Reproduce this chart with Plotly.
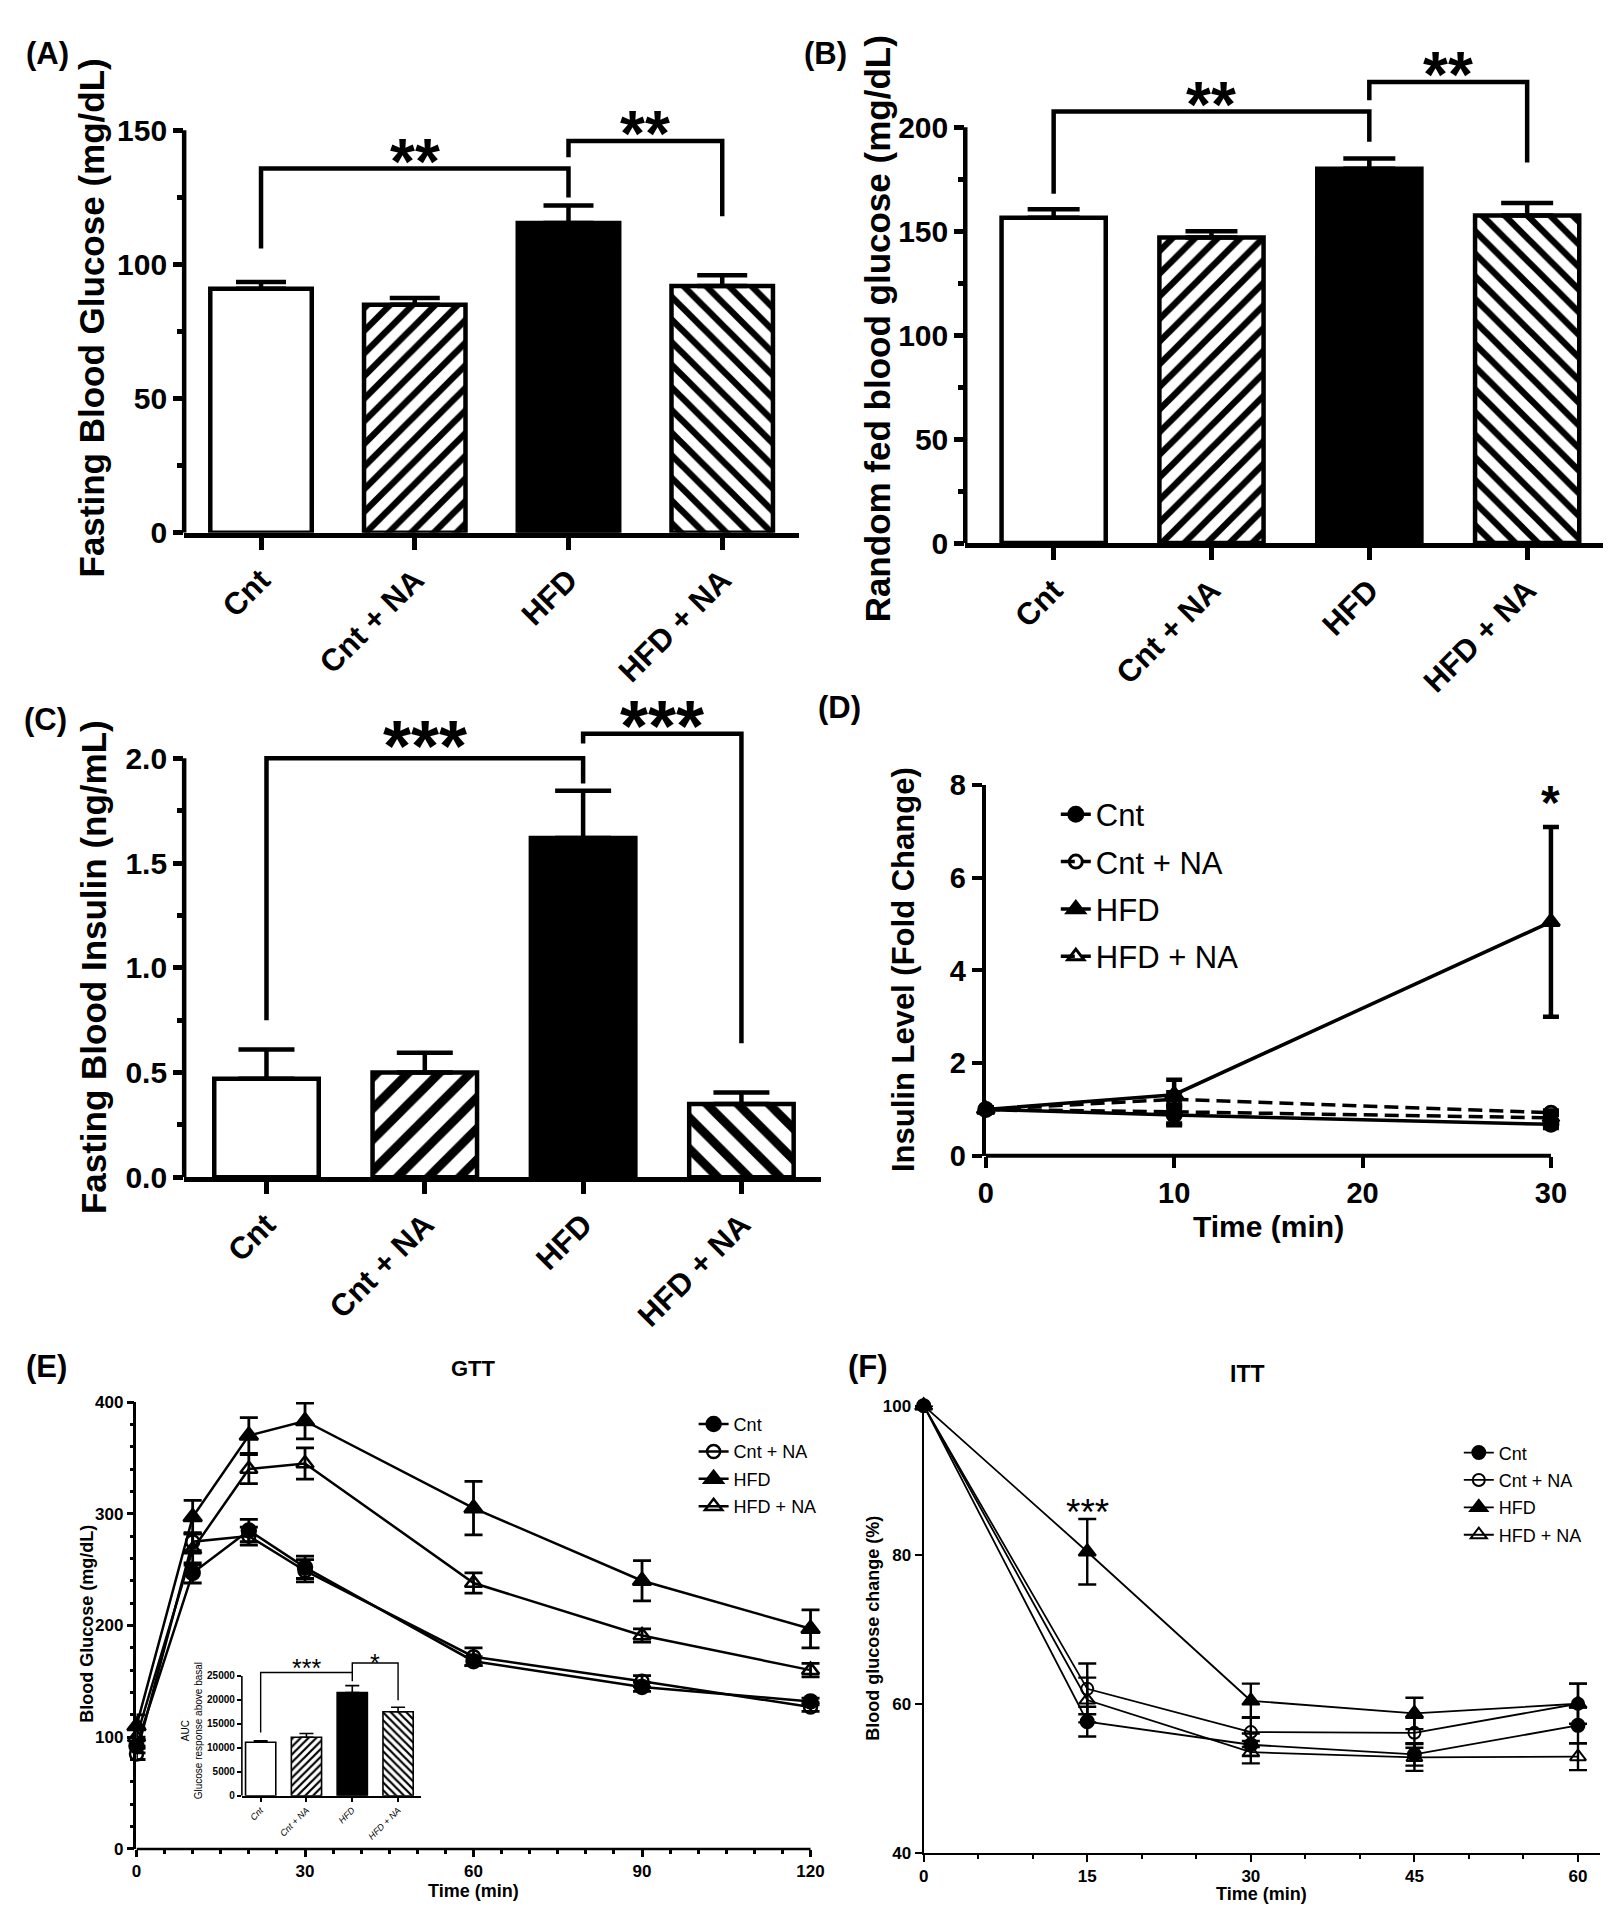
import plotly.graph_objects as go

W, H = 1611, 1920
FONT = "Arial, 'Liberation Sans', Helvetica, sans-serif"

# ---------------- data ----------------
groups = ["Cnt", "Cnt + NA", "HFD", "HFD + NA"]
group_pos = [0, 1, 2, 3]

# (A) fasting blood glucose (mg/dL)
fbg_mean = [91.0, 85.0, 115.5, 92.0]
fbg_sem = [2.5, 2.5, 6.5, 4.0]
fbg_brackets = [([0, 0, 2, 2], [106, 135.8, 135.8, 125]), ([2, 2, 3, 3], [140, 146, 146, 118])]
fbg_stars = [(1.0, 141.6, "**"), (2.5, 151.8, "**")]

# (B) random fed blood glucose (mg/dL)
rbg_mean = [156.5, 147.0, 180.0, 157.5]
rbg_sem = [4.0, 3.0, 5.0, 6.0]
rbg_brackets = [([0, 0, 2, 2], [168, 207.6, 207.6, 193]), ([2, 2, 3, 3], [213, 221.7, 221.7, 183])]
rbg_stars = [(1.0, 214.8, "**"), (2.5, 229.3, "**")]

# (C) fasting blood insulin (ng/mL)
ins_mean = [0.47, 0.50, 1.62, 0.35]
ins_sem = [0.14, 0.095, 0.225, 0.055]
ins_brackets = [([0, 0, 2, 2], [0.75, 2.0, 2.0, 1.88]), ([2, 2, 3, 3], [2.07, 2.117, 2.117, 0.64])]
ins_stars = [(1.0, 2.104, "***"), (2.5, 2.202, "***")]

# (D) insulin level fold change
d_time = [0, 10, 30]
d_cnt = [1.0, 0.88, 0.68]
d_cnt_sem = [0.05, 0.22, 0.08]
d_cnt_na = [1.0, 1.22, 0.93]
d_cnt_na_sem = [0.05, 0.15, 0.05]
d_hfd = [1.0, 1.32, 5.05]
d_hfd_sem = [0.05, 0.32, 2.05]
d_hfd_na = [1.0, 0.95, 0.82]
d_hfd_na_sem = [0.05, 0.25, 0.08]
d_star = (30, 7.76, "*")

# (E) GTT
gtt_time = [0, 10, 20, 30, 60, 90, 120]
gtt_cnt = [92, 247, 285, 252, 168, 145, 132]
gtt_cnt_sem = [6, 9, 10, 10, 4, 4, 3]
gtt_cnt_na = [85, 275, 280, 249, 172, 150, 127]
gtt_cnt_na_sem = [5, 8, 8, 10, 8, 5, 4]
gtt_hfd = [110, 297, 370, 383, 305, 240, 197]
gtt_hfd_sem = [10, 15, 16, 16, 24, 18, 17]
gtt_hfd_na = [100, 268, 340, 345, 238, 191, 160]
gtt_hfd_na_sem = [8, 14, 13, 14, 9, 6, 6]

# (E inset) AUC
auc_mean = [11150, 12190, 21520, 17510]
auc_sem = [330, 800, 1450, 950]
auc_brackets = [([0, 0, 2, 2], [13200, 25700, 25700, 23900]), ([2, 2, 3, 3], [25700, 27700, 27700, 19900])]
auc_stars = [(1.0, 27400, "***"), (2.5, 28420, "*")]

# (F) ITT
itt_time = [0, 15, 30, 45, 60]
itt_cnt = [100, 57.6, 54.5, 53.2, 57.1]
itt_cnt_sem = [0, 2.0, 1.5, 1.5, 2.4]
itt_cnt_na = [100, 62.0, 56.2, 56.1, 60.0]
itt_cnt_na_sem = [0, 3.4, 2.0, 2.0, 2.7]
itt_hfd = [100, 80.4, 60.4, 58.7, 60.0]
itt_hfd_sem = [0, 4.4, 2.3, 2.1, 2.7]
itt_hfd_na = [100, 60.5, 53.5, 52.8, 52.9]
itt_hfd_na_sem = [0, 3.0, 1.5, 1.8, 1.8]
itt_star = (15, 86.3, "***")

# ---------------- styles ----------------
bar_fill = ["white", "white", "black", "white"]
bar_pattern = ["", "/", "", "\\"]
line_symbols = ["circle", "circle-open", "triangle-up", "triangle-up-open"]
d_dashes = ["solid", "14px,7px", "solid", "14px,7px"]
STAR_K = 0.135


def px_x(x):
    return x / W


def px_y(y):
    return 1 - y / H


def fnt(size, bold=True):
    return dict(family=FONT, size=size, color="black", weight="bold" if bold else "normal")


fig = go.Figure()
annotations = []
shapes = []


def add_bar_panel(xa, ya, means, sems, pat_size, lw, capw, solidity=0.4):
    for i in range(len(means)):
        marker = dict(color=bar_fill[i], line=dict(color="black", width=lw))
        if bar_pattern[i]:
            marker["pattern"] = dict(shape=bar_pattern[i], fgcolor="black", bgcolor="white",
                                     fgopacity=1, size=pat_size, solidity=solidity, fillmode="replace")
        fig.add_trace(go.Bar(
            x=[group_pos[i]], y=[means[i]], width=0.66, xaxis=xa, yaxis=ya, showlegend=False,
            hoverinfo="skip", marker=marker,
            error_y=dict(type="data", array=[sems[i]], arrayminus=[0], symmetric=False,
                         color="black", thickness=lw, width=capw)))


def add_brackets(xa, ya, brackets, lw):
    for bx, by in brackets:
        fig.add_trace(go.Scatter(x=bx, y=by, mode="lines", line=dict(color="black", width=lw),
                                 xaxis=xa, yaxis=ya, showlegend=False, hoverinfo="skip"))


def add_stars(xa, ya, stars, size, bold=True):
    for sx, sy, st in stars:
        annotations.append(dict(xref=xa, yref=ya, x=sx, y=sy, text=st, showarrow=False,
                                xanchor="center", yanchor="middle", yshift=-STAR_K * size,
                                font=fnt(size, bold)))


def y_spine(xa, ya, top, lw):
    shapes.append(dict(type="line", xref=xa + " domain", yref=ya, x0=0, x1=0, y0=0, y1=top,
                       line=dict(color="black", width=lw)))


def x_spine(xa, ya, left, right, lw):
    shapes.append(dict(type="line", xref=xa, yref=ya + " domain", x0=left, x1=right, y0=0, y1=0,
                       line=dict(color="black", width=lw)))


def text_ann(xp, yp, text, size, bold=True, angle=0, xanchor="center", yanchor="middle"):
    annotations.append(dict(xref="paper", yref="paper", x=px_x(xp), y=px_y(yp), text=text,
                            showarrow=False, textangle=angle, xanchor=xanchor, yanchor=yanchor,
                            font=fnt(size, bold)))


def add_line_series(xa, ya, xs, ys_list, errs_list, legend, lw, msizes, mlw, eth, ew, dashes=None):
    for i, (name, ys, errs) in enumerate(zip(groups, ys_list, errs_list)):
        fig.add_trace(go.Scatter(
            x=xs, y=ys, name=name, mode="lines+markers", xaxis=xa, yaxis=ya, legend=legend,
            legendgroup=legend + name,
            line=dict(color="black", width=lw, dash=(dashes[i] if dashes else "solid")),
            marker=dict(symbol=line_symbols[i], size=msizes[i], color="black",
                        line=dict(color="black", width=mlw)),
            error_y=dict(type="data", array=errs, color="black", thickness=eth, width=ew),
            cliponaxis=False, hoverinfo="skip"))


# ---------- (A) ----------
add_bar_panel("x", "y", fbg_mean, fbg_sem, 16, 4.5, 25)
add_brackets("x", "y", fbg_brackets, 4.5)
add_stars("x", "y", fbg_stars, 64)
y_spine("x", "y", 150, 4.5)

# ---------- (B) ----------
add_bar_panel("x2", "y2", rbg_mean, rbg_sem, 16, 4.5, 26)
add_brackets("x2", "y2", rbg_brackets, 4.5)
add_stars("x2", "y2", rbg_stars, 64)
y_spine("x2", "y2", 200, 4.5)

# ---------- (C) ----------
add_bar_panel("x3", "y3", ins_mean, ins_sem, 22, 4.5, 28)
add_brackets("x3", "y3", ins_brackets, 4.5)
add_stars("x3", "y3", ins_stars, 72)
y_spine("x3", "y3", 2.0, 4.5)

# ---------- (D) ----------
add_line_series("x4", "y4", d_time, [d_cnt, d_cnt_na, d_hfd, d_hfd_na],
                [d_cnt_sem, d_cnt_na_sem, d_hfd_sem, d_hfd_na_sem], "legend",
                3.5, [14, 13, 15, 14], 3, 4.5, 8, dashes=d_dashes)
add_stars("x4", "y4", [d_star], 48)
x_spine("x4", "y4", 0, 30, 4)

# ---------- (E) ----------
add_line_series("x5", "y5", gtt_time, [gtt_cnt, gtt_cnt_na, gtt_hfd, gtt_hfd_na],
                [gtt_cnt_sem, gtt_cnt_na_sem, gtt_hfd_sem, gtt_hfd_na_sem], "legend2",
                2.5, [14, 13, 16, 15], 2.5, 2.8, 9)
x_spine("x5", "y5", 0, 120, 2.5)

# ---------- (E inset) ----------
add_bar_panel("x6", "y6", auc_mean, auc_sem, 5.5, 1.6, 7)
add_brackets("x6", "y6", auc_brackets, 1.4)
add_stars("x6", "y6", auc_stars, 25, bold=False)
y_spine("x6", "y6", 25000, 1.6)

# ---------- (F) ----------
add_line_series("x7", "y7", itt_time, [itt_cnt, itt_cnt_na, itt_hfd, itt_hfd_na],
                [itt_cnt_sem, itt_cnt_na_sem, itt_hfd_sem, itt_hfd_na_sem], "legend3",
                1.8, [13, 12, 15, 14], 2, 2.4, 9)
add_stars("x7", "y7", [itt_star], 37, bold=False)

# ---------- texts ----------
for lab, xp, yp in [("(A)", 8, 30), ("(B)", 790, 30), ("(C)", 6, 708), ("(D)", 804, 695),
                    ("(E)", 8, 1366), ("(F)", 834, 1366)]:
    text_ann(xp, yp, lab, 31, True, 0, "left", "middle")

text_ann(76, 299, "Fasting Blood Glucose (mg/dL)", 35, True, -90)
text_ann(866, 310, "Random fed blood glucose (mg/dL)", 35, True, -90)
text_ann(78, 960, "Fasting Blood Insulin (ng/mL)", 35, True, -90)
text_ann(892, 962, "Insulin Level (Fold Change)", 31, True, -90)
text_ann(1258.6, 1224, "Time (min)", 30, True)
text_ann(71, 1628, "Blood Glucose (mg/dL)", 18, True, -90)
text_ann(460, 1900, "Time (min)", 18, True)
text_ann(460, 1368, "GTT", 22, True)
text_ann(861, 1632, "Blood glucose change (%)", 18, True, -90)
text_ann(1252, 1903, "Time (min)", 18, True)
text_ann(1238, 1374, "ITT", 23, True)
annotations.append(dict(xref="paper", yref="paper", x=px_x(177), y=px_y(1737),
                        text="AUC<br>Glucose response above basal", showarrow=False, textangle=-90,
                        xanchor="center", yanchor="middle", font=fnt(10, False)))


# ---------- axes ----------
def ax(dom, rng, anchor, tickvals, lw, ticklen, fsize, showline=True, ticktext=None, angle=None,
       minor_vals=None, minor_len=6, bold=True):
    d = dict(domain=dom, range=rng, anchor=anchor, tickmode="array", tickvals=tickvals,
             ticks="outside", ticklen=ticklen, tickwidth=lw, tickcolor="black",
             showline=showline, linewidth=lw, linecolor="black", showgrid=False, zeroline=False,
             tickfont=fnt(fsize, bold), fixedrange=True, tickformat="d")
    if ticktext is not None:
        d["ticktext"] = ticktext
    if angle is not None:
        d["tickangle"] = angle
    if minor_vals is not None:
        d["minor"] = dict(tickmode="array", tickvals=minor_vals, ticks="outside", ticklen=minor_len,
                          tickwidth=lw, tickcolor="black", showgrid=False)
    return d


D_PX_PER_MIN = (1542.6 - 974.6) / 30
E_PX_PER_MIN = (798.5 - 121.1) / 120

layout = dict(
    width=W, height=H, margin=dict(l=0, r=0, t=0, b=0),
    paper_bgcolor="white", plot_bgcolor="rgba(0,0,0,0)", font=fnt(20, False),
    barmode="overlay",
    # A
    xaxis=ax([px_x(169), px_x(787)], [-0.5, 3.5], "y", group_pos, 4.5, 12, 31, True, groups, -45),
    yaxis=ax([px_y(517.7), px_y(80.9)], [0, 160], "x", [0, 50, 100, 150], 4.5, 10, 30, False,
             minor_vals=[25, 75, 125]),
    # B
    xaxis2=ax([px_x(954), px_x(1598)], [-0.56, 3.5], "y2", group_pos, 4.5, 12, 31, True, groups, -45),
    yaxis2=ax([px_y(528.2), px_y(37.3)], [0, 232], "x2", [0, 50, 100, 150, 200], 4.5, 10, 30, False,
              minor_vals=[25, 75, 125, 175]),
    # C
    xaxis3=ax([px_x(169), px_x(808.6)], [-0.52, 3.5], "y3", group_pos, 4.5, 12, 31, True, groups, -45),
    yaxis3=ax([px_y(1173.5), px_y(693.8)], [0, 2.25], "x3", [0, 0.5, 1.0, 1.5, 2.0], 4.5, 10, 30, False,
              ticktext=["0.0", "0.5", "1.0", "1.5", "2.0"], minor_vals=[0.25, 0.75, 1.25, 1.75]),
    # D
    xaxis4=ax([px_x(974.6), px_x(974.6 + 31 * D_PX_PER_MIN)], [0, 31], "y4", [0, 10, 20, 30], 4, 11, 29,
              False),
    yaxis4=ax([px_y(1151.6), px_y(774.5)], [0, 8], "x4", [0, 2, 4, 6, 8], 4, 10, 29, True),
    # E
    xaxis5=ax([px_x(121.1), px_x(121.1 + 123 * E_PX_PER_MIN)], [0, 123], "y5", [0, 30, 60, 90, 120],
              2.5, 7, 17, False, minor_vals=list(range(0, 121, 5)), minor_len=4),
    yaxis5=ax([px_y(1856.8), px_y(1402.1)], [0, 400], "x5", [0, 100, 200, 300, 400], 2.5, 7, 17, True,
              minor_vals=list(range(0, 401, 20)), minor_len=4),
    # inset
    xaxis6=ax([px_x(227), px_x(407)], [-0.41, 3.5], "y6", group_pos, 1.6, 4, 9, True,
              ["<i>%s</i>" % g for g in groups], -45, bold=False),
    yaxis6=ax([px_y(1802.7), px_y(1661.3)], [0, 29000], "x6", [0, 5000, 10000, 15000, 20000, 25000],
              1.6, 4, 10, False),
    # F
    xaxis7=ax([px_x(912.2), px_x(1591.7)], [0, 62], "y7", [0, 15, 30, 45, 60], 2.2, 7, 17, True,
              minor_vals=list(range(0, 61, 5)), minor_len=4),
    yaxis7=ax([px_y(1860.8), px_y(1405.8)], [40, 100], "x7", [40, 60, 80, 100], 2.2, 7, 17, True),
    legend=dict(x=px_x(1045), y=px_y(777), xanchor="left", yanchor="top", bgcolor="rgba(0,0,0,0)",
                font=fnt(31, False), tracegroupgap=4, itemsizing="trace"),
    legend2=dict(x=px_x(681), y=px_y(1406), xanchor="left", yanchor="top", bgcolor="rgba(0,0,0,0)",
                 font=fnt(18, False), tracegroupgap=1, itemsizing="trace"),
    legend3=dict(x=px_x(1450), y=px_y(1435), xanchor="left", yanchor="top", bgcolor="rgba(0,0,0,0)",
                 font=fnt(18, False), tracegroupgap=1, itemsizing="trace"),
    annotations=annotations,
    shapes=shapes,
    showlegend=True,
)
fig.update_layout(**layout)
fig.write_html("out.html", config=dict(displayModeBar=False))
